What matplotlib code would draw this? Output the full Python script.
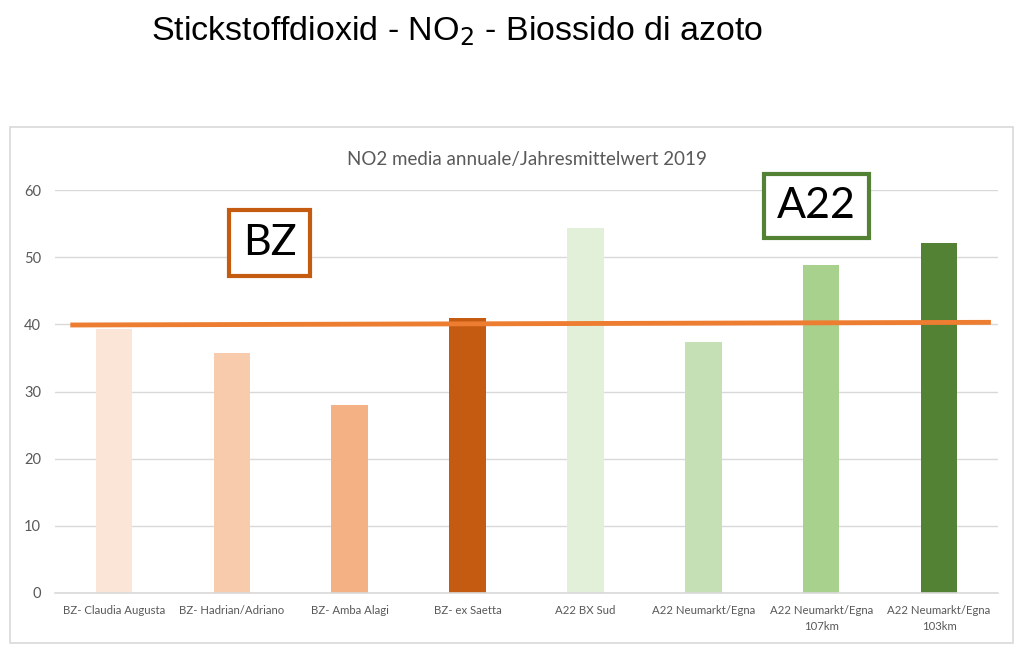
import numpy as np
import matplotlib.pyplot as plt
from matplotlib.patches import Rectangle

stations = ['BZ- Claudia Augusta', 'BZ- Hadrian/Adriano', 'BZ- Amba Alagi', 'BZ- ex Saetta',
            'A22 BX Sud', 'A22 Neumarkt/Egna', 'A22 Neumarkt/Egna\n107km', 'A22 Neumarkt/Egna\n103km']
no2 = [39.3, 35.7, 28.0, 40.9, 54.3, 37.4, 48.8, 52.1]
colors = ['#FBE5D6', '#F8CBAD', '#F4B183', '#C55A11',
          '#E2F0D9', '#C5E0B4', '#A9D18E', '#548235']

# limit line, drawn slightly sloped as in the original
limit_x = [-0.37, 7.44]
limit_y = [39.9, 40.3]

fig = plt.figure(figsize=(10.24, 6.66), dpi=100)
fig.patches.append(Rectangle((10 / 1024, 1 - 643 / 666), 1003 / 1024, 516 / 666,
                             transform=fig.transFigure, fill=False,
                             edgecolor='#D9D9D9', linewidth=1.2))

fig.text(0.446, 0.953, 'Stickstoffdioxid - NO$_2$ - Biossido di azoto',
         ha='center', va='center', fontsize=24.5, family='Liberation Sans')

ax = fig.add_axes([55 / 1024, 1 - 593 / 666, 943 / 1024, 403 / 666])
x = np.arange(len(stations))
ax.bar(x, no2, width=0.31, color=colors, zorder=2)
ax.plot(limit_x, limit_y, color='#ED7D31', linewidth=3.5, zorder=3, solid_capstyle='butt')

ax.set_xlim(-0.5, len(stations) - 0.5)
ax.set_ylim(0, 60)
ax.set_yticks(range(0, 61, 10))
ax.set_xticks(x)
ax.set_xticklabels(stations, fontsize=8.2, color='#595959', family='Lato', linespacing=1.5)
ax.tick_params(axis='y', labelsize=10.5, labelcolor='#595959', length=0, pad=10)
ax.tick_params(axis='x', length=0, pad=9)
for lbl in ax.get_yticklabels():
    lbl.set_family('Lato')
ax.grid(axis='y', color='#D9D9D9', linewidth=1, zorder=0)
ax.set_axisbelow(True)
for s in ['top', 'right', 'left']:
    ax.spines[s].set_visible(False)
ax.spines['bottom'].set_color('#D9D9D9')
ax.spines['bottom'].set_linewidth(1.2)
ax.spines['bottom'].set_clip_on(False)

ax.text(3.5, 64.5, 'NO2 media annuale/Jahresmittelwert 2019', ha='center', va='center',
        fontsize=13.5, color='#595959', family='Lato', clip_on=False)

ax.text(1.32, 52.1, 'BZ', ha='center', va='center', fontsize=31, family='Lato',
        bbox=dict(boxstyle='square,pad=0.32', facecolor='white', edgecolor='#C55A11', linewidth=3))
ax.text(5.96, 57.6, 'A22', ha='center', va='center', fontsize=31, family='Lato',
        bbox=dict(boxstyle='square,pad=0.3', facecolor='white', edgecolor='#548235', linewidth=3))

plt.savefig('out.png', dpi=100)
